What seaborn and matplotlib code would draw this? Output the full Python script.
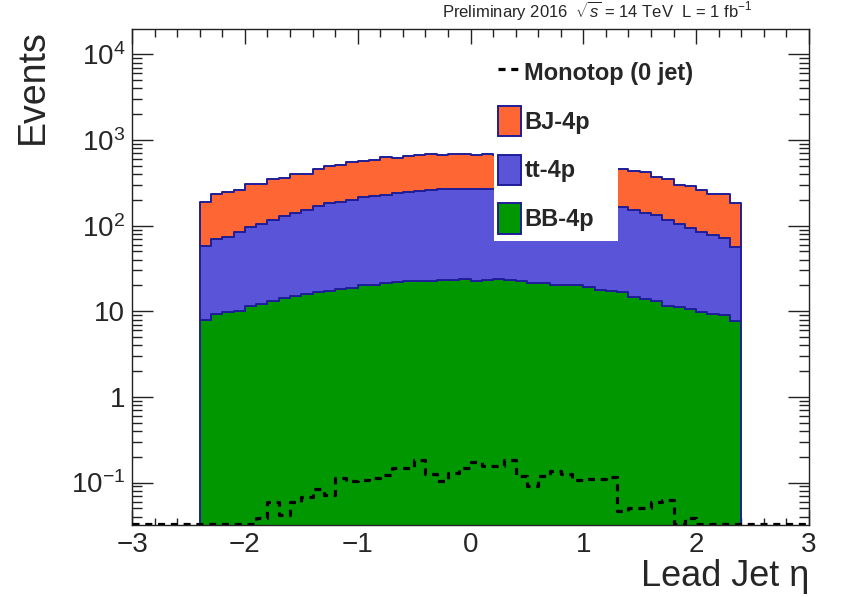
import numpy as np
import pandas as pd
import matplotlib
matplotlib.use("Agg")
import matplotlib.pyplot as plt
from matplotlib.patches import Patch, Rectangle
from matplotlib.lines import Line2D
from matplotlib.ticker import MultipleLocator, LogLocator, NullFormatter
import seaborn as sns

# ---------------- data ----------------
eta_lo, eta_hi, n_bins = -2.4, 2.4, 48
process_names = ["BJ-4p", "tt-4p", "BB-4p"]

bj_4p = [130, 165, 173, 178, 213, 203, 235, 226, 260, 248,
         291, 318, 324, 350, 348, 362, 400, 370, 398, 407,
         420, 402, 411, 415, 402, 415, 406, 401, 398, 396,
         386, 379, 372, 363, 351, 332, 317, 292, 285, 278,
         240, 238, 197, 198, 179, 156, 163, 125]
tt_4p = [50, 60, 64, 73, 85, 93, 102, 117, 126, 137,
         151, 165, 172, 181, 196, 202, 207, 219, 224, 233,
         239, 243, 247, 242, 243, 243, 242, 236, 230, 223,
         215, 206, 198, 187, 178, 170, 161, 150, 138, 128,
         120, 104, 93, 83, 74, 69, 62, 49]
bb_4p = [7.9, 9.3, 9.7, 10.2, 11.4, 12.3, 13.3, 14.2, 15.0, 16.0,
         17.0, 17.4, 18.4, 18.9, 20.0, 20.3, 21.3, 22.2, 22.6, 22.8,
         22.5, 23.1, 23.1, 23.7, 22.8, 23.3, 23.7, 23.1, 22.5, 21.5,
         21.1, 20.5, 20.5, 20.2, 19.4, 17.6, 17.3, 16.7, 14.6, 14.0,
         13.2, 11.5, 11.2, 10.5, 9.8, 9.4, 9.1, 7.6]

mono_lo, mono_hi, mono_bins = -3.0, 3.0, 60
mono_label = "Monotop (0 jet)"
monotop = [0, 0, 0, 0, 0, 0,
           0, 0, 0, 0, 0, 0.038, 0.059, 0.042, 0.059, 0.067,
           0.084, 0.071, 0.114, 0.105, 0.108, 0.114, 0.121, 0.149, 0.149, 0.185,
           0.127, 0.105, 0.130, 0.148, 0.173, 0.154, 0.154, 0.181, 0.120, 0.090,
           0.120, 0.138, 0.127, 0.106, 0.110, 0.110, 0.116, 0.046, 0.050, 0.051,
           0.059, 0.063, 0.033, 0.038, 0, 0, 0, 0,
           0, 0, 0, 0, 0, 0]

xtick_values = [-3, -2, -1, 0, 1, 2, 3]
ytick_values = [0.1, 1, 10, 100, 1000, 10000]
ytick_labels = [r"$10^{-1}$", "1", "10", r"$10^{2}$", r"$10^{3}$", r"$10^{4}$"]
x_title = "Lead Jet η"
y_title = "Events"
header = r"Preliminary 2016  $\sqrt{s}$ = 14 TeV  L = 1 fb$^{-1}$"

# ---------------- style ----------------
sns.set_style("ticks")
plt.rcParams["font.family"] = ["Liberation Sans", "DejaVu Sans"]
plt.rcParams["mathtext.fontset"] = "custom"
plt.rcParams["mathtext.rm"] = "Liberation Sans"
plt.rcParams["mathtext.it"] = "Liberation Sans:italic"
plt.rcParams["mathtext.bf"] = "Liberation Sans:bold"
plt.rcParams["axes.unicode_minus"] = True

colors = {"BJ-4p": "#fe6633", "tt-4p": "#5a55d8", "BB-4p": "#009700"}
edge_col = "#1e1e98"
dash = (0, (2.2, 1.8))
ymin, ymax = 0.0319, 1.96e4

edges = np.linspace(eta_lo, eta_hi, n_bins + 1)
centers = 0.5 * (edges[:-1] + edges[1:])
df = pd.concat([
    pd.DataFrame({"eta": centers, "events": vals, "process": name})
    for name, vals in zip(process_names, [bj_4p, tt_4p, bb_4p])
], ignore_index=True)

m_edges = np.linspace(mono_lo, mono_hi, mono_bins + 1)
m_centers = 0.5 * (m_edges[:-1] + m_edges[1:])
mono_df = pd.DataFrame({"eta": m_centers,
                        "events": np.clip(np.array(monotop, float), ymin * 1.04, None)})

fig = plt.figure(figsize=(8.43, 5.97), dpi=100)
ax = fig.add_axes([0.1566, 0.1206, 0.8031, 0.8303])

sns.histplot(data=df, x="eta", weights="events", hue="process",
             hue_order=process_names, bins=edges.tolist(), multiple="stack",
             element="step", palette=colors, edgecolor=edge_col,
             linewidth=1.4, alpha=1, legend=False, ax=ax)
sns.histplot(data=mono_df, x="eta", weights="events", bins=m_edges.tolist(),
             element="step", fill=False, color="black", linewidth=2.3,
             linestyle=dash, ax=ax, zorder=3)

ax.set_yscale("log")
ax.set_xlim(mono_lo, mono_hi)
ax.set_ylim(ymin, ymax)
ax.set_xticks(xtick_values)
ax.xaxis.set_minor_locator(MultipleLocator(0.2))
ax.set_yticks(ytick_values, ytick_labels)
ax.yaxis.set_minor_locator(LogLocator(base=10, subs=np.arange(2, 10)))
ax.yaxis.set_minor_formatter(NullFormatter())

ax.tick_params(axis="both", which="both", direction="in", top=True, right=True,
               labelsize=20, width=1, color="#222222")
ax.tick_params(axis="x", which="major", length=10.8, pad=5)
ax.tick_params(axis="x", which="minor", length=5.4)
ax.tick_params(axis="y", which="major", length=15, pad=5)
ax.tick_params(axis="y", which="minor", length=7.2)
for s in ax.spines.values():
    s.set_linewidth(1.0)
    s.set_color("#222222")

ax.set_xlabel(x_title, fontsize=26, loc="right")
ax.xaxis.set_label_coords(1.0, -0.0686)
ax.xaxis.label.set_va("top")
ax.set_ylabel(y_title, fontsize=27, loc="top")
ax.yaxis.set_label_coords(-0.12, 1.0)

# legend box
ax.add_patch(Rectangle((0.5347, 0.5729), 0.1832, 0.36, transform=ax.transAxes,
                       facecolor="white", edgecolor="none", zorder=4))
handles = [Line2D([], [], color="black", linestyle=dash, linewidth=2.3)]
handles += [Patch(facecolor=colors[n], edgecolor=edge_col, linewidth=1.4)
            for n in process_names]
labels = [mono_label] + process_names
leg = ax.legend(handles, labels, loc="upper left", bbox_to_anchor=(0.5406, 0.944),
                frameon=False, borderpad=0, borderaxespad=0, handlelength=0.97,
                handleheight=1.6, labelspacing=0.78, handletextpad=0.15,
                prop={"weight": "bold", "size": 17})
leg.set_zorder(5)

fig.text(0.892, 0.9715, header, ha="right", va="baseline", fontsize=12)

fig.savefig("out.png", dpi=100)
